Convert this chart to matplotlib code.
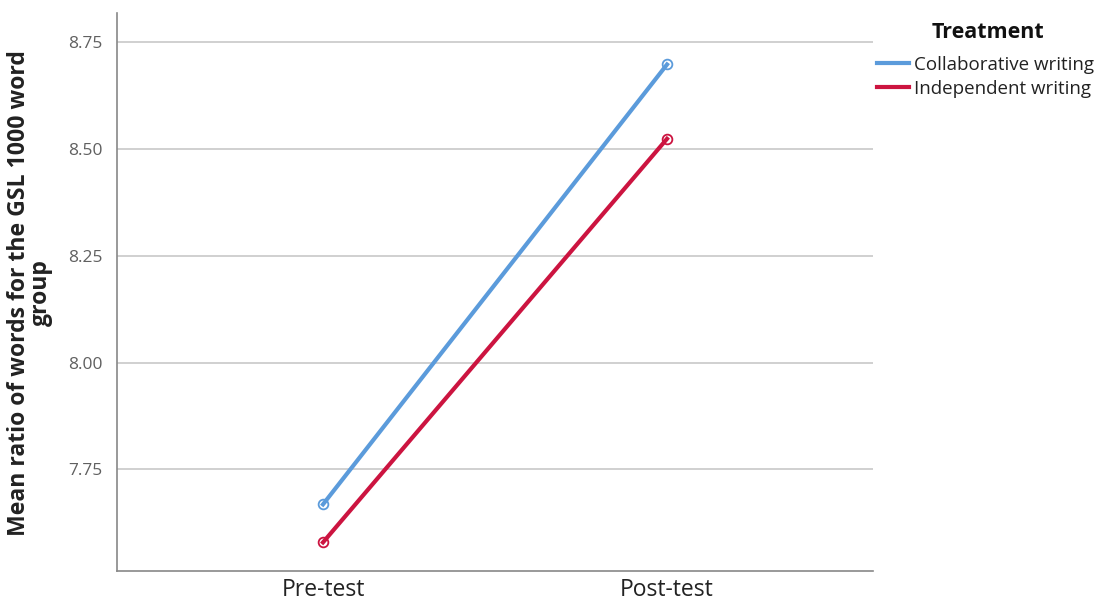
import matplotlib
matplotlib.use("Agg")
import matplotlib.pyplot as plt
from matplotlib.lines import Line2D

categories = ["Pre-test", "Post-test"]
collaborative = [7.668, 8.698]
independent = [7.579, 8.524]
series_names = ["Collaborative writing", "Independent writing"]
yticks = [7.75, 8.00, 8.25, 8.50, 8.75]
ytick_labels = ["7.75", "8.00", "8.25", "8.50", "8.75"]

blue = "#5B9BDB"
red = "#CC1440"
FONT = "Open Sans"

fig = plt.figure(figsize=(11, 6.02), dpi=100)
ax = fig.add_axes([0.106, 0.0515, 0.688, 0.9265])

x = list(range(len(categories)))
for vals, col in [(collaborative, blue), (independent, red)]:
    ax.plot(x, vals, color=col, lw=3, zorder=3)
    ax.plot(x, vals, ls="none", marker="o", ms=7, mfc="none", mec=col, mew=1.3, zorder=4)

ax.set_xlim(-0.6, 1.6)
ax.set_ylim(7.512, 8.818)
ax.set_xticks(x)
ax.set_xticklabels(categories, fontsize=16.5, color="#222222", family=FONT)
ax.set_yticks(yticks)
ax.set_yticklabels(ytick_labels, fontsize=12.5, color="#606060", family=FONT)
ax.tick_params(axis="both", length=0)
ax.tick_params(axis="y", pad=10)
ax.tick_params(axis="x", pad=5)
ax.yaxis.grid(True, color="#C8C8C8", lw=1.2)
ax.set_axisbelow(True)
for s in ["top", "right"]:
    ax.spines[s].set_visible(False)
for s in ["left", "bottom"]:
    ax.spines[s].set_color("#888888")
    ax.spines[s].set_linewidth(1.2)

fig.text(30 / 1100, 1 - 293 / 602, "Mean ratio of words for the GSL 1000 word\ngroup",
         rotation=90, ha="center", va="center", multialignment="center",
         fontsize=16.6, fontweight="bold", color="#222222", family=FONT, linespacing=0.92)

fig.text(988 / 1100, 1 - 33 / 602, "Treatment", ha="center", va="center",
         fontsize=15.5, fontweight="bold", color="#111111", family=FONT)

handles = [Line2D([], [], color=blue, lw=3), Line2D([], [], color=red, lw=3)]
leg = fig.legend(handles, series_names, loc="upper left",
                 bbox_to_anchor=(877 / 1100, 1 - 56 / 602), frameon=False,
                 prop={"family": FONT, "size": 13.5},
                 handlelength=1.7, handletextpad=0.3, labelspacing=0.3,
                 borderpad=0, borderaxespad=0)
for t in leg.get_texts():
    t.set_color("#222222")

fig.savefig("out.png", dpi=100, facecolor="white")
